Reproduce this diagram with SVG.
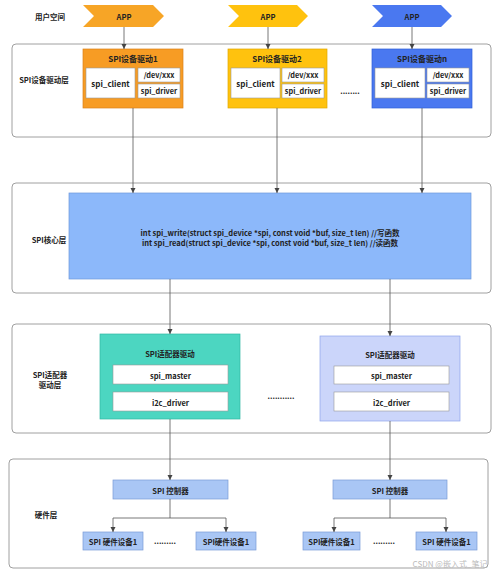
<svg xmlns="http://www.w3.org/2000/svg" width="499" height="573" viewBox="0 0 499 573">
<defs>
<marker id="ah" markerWidth="6" markerHeight="6" refX="5" refY="3" orient="auto" markerUnits="userSpaceOnUse">
<path d="M0,0.5 L5,3 L0,5.5 Z" fill="#444"/>
</marker>
<style>
text{font-family:"Noto Sans CJK SC","Noto Sans",sans-serif;font-weight:bold;fill:#222;text-anchor:middle;dominant-baseline:central}
.frame{fill:#fff;stroke:#888;stroke-width:0.8}
.w{fill:#fff;stroke:#999;stroke-width:0.6}
.conn{stroke:#555;stroke-width:0.8;fill:none}
.lbl{font-size:7.5px}
.t{font-size:8px}
.sm{font-size:7.3px}
.s{font-size:7.5px}
.hw{fill:#A9C6F5;stroke:#7A9AD6;stroke-width:0.7}
</style>
</defs>
<rect width="499" height="573" fill="#fff"/>

<g id="frames">
<rect class="frame" x="12" y="44" width="479" height="93" rx="4"/>
<rect class="frame" x="12" y="183" width="479" height="110" rx="4"/>
<rect class="frame" x="12" y="324" width="479" height="109" rx="4"/>
<rect class="frame" x="9" y="459" width="479" height="109" rx="4"/>
</g>

<g id="layer-labels">
<text class="lbl" x="50" y="16">用户空间</text>
<text class="lbl" x="44" y="79">SPI设备驱动层</text>
<text class="lbl" x="49" y="239">SPI核心层</text>
<text class="lbl" x="50" y="374">SPI适配器</text>
<text class="lbl" x="50" y="384">驱动层</text>
<text class="lbl" x="46" y="514">硬件层</text>
</g>

<g id="app1">
<polygon points="83,5 153,5 164,16 153,27 83,27 94,16" fill="#F7A526"/>
<text class="s" x="124" y="16">APP</text>
</g>
<g id="app2">
<polygon points="228,5 297,5 308,16 297,27 228,27 239,16" fill="#FFC20E"/>
<text class="s" x="268" y="16">APP</text>
</g>
<g id="app3">
<polygon points="372,5 441,5 452,16 441,27 372,27 383,16" fill="#4A78F0"/>
<text class="s" x="412" y="16">APP</text>
</g>

<g id="drv1">
<rect x="83" y="49" width="100" height="59" fill="#F79C24" stroke="#D9821A" stroke-width="0.7"/>
<text class="t" x="133" y="58">SPI设备驱动1</text>
<rect class="w" x="86" y="68" width="49" height="30"/>
<text class="t" x="110.5" y="83">spi_client</text>
<rect class="w" x="138" y="68" width="42" height="14"/>
<text class="sm" x="159" y="75">/dev/xxx</text>
<rect class="w" x="138" y="84" width="42" height="14"/>
<text class="sm" x="159" y="91">spi_driver</text>
</g>
<g id="drv2">
<rect x="228" y="49" width="99" height="59" fill="#FFC20E" stroke="#E0A800" stroke-width="0.7"/>
<text class="t" x="277" y="58">SPI设备驱动2</text>
<rect class="w" x="231" y="68" width="49" height="30"/>
<text class="t" x="255.5" y="83">spi_client</text>
<rect class="w" x="282" y="68" width="42" height="14"/>
<text class="sm" x="303" y="75">/dev/xxx</text>
<rect class="w" x="282" y="84" width="42" height="14"/>
<text class="sm" x="303" y="91">spi_driver</text>
</g>
<g id="drv-dots">
<text class="s" x="350" y="90">........</text>
</g>
<g id="drvn">
<rect x="372" y="49" width="100" height="59" fill="#4A78F0" stroke="#2F5FD8" stroke-width="0.7"/>
<text class="t" x="422" y="58">SPI设备驱动n</text>
<rect class="w" x="375" y="68" width="50" height="30"/>
<text class="t" x="400" y="83">spi_client</text>
<rect class="w" x="427" y="68" width="42" height="14"/>
<text class="sm" x="448" y="75">/dev/xxx</text>
<rect class="w" x="427" y="84" width="42" height="14"/>
<text class="sm" x="448" y="91">spi_driver</text>
</g>

<g id="core">
<rect x="69" y="193" width="402" height="86" fill="#8CB8FA" stroke="#6D97DA" stroke-width="0.7"/>
<text class="s" x="270" y="232">int spi_write(struct spi_device *spi, const void *buf, size_t len)  //写函数</text>
<text class="s" x="270" y="242">int spi_read(struct spi_device *spi, const void *buf, size_t len)  //读函数</text>
</g>

<g id="adapter1">
<rect x="100" y="334" width="140" height="85" fill="#4CD6C1" stroke="#33B8A4" stroke-width="0.7"/>
<text class="s" x="170" y="353">SPI适配器驱动</text>
<rect class="w" x="113" y="365" width="115" height="19"/>
<text class="s" x="170.5" y="375">spi_master</text>
<rect class="w" x="113" y="392" width="115" height="19"/>
<text class="s" x="170.5" y="402">i2c_driver</text>
</g>
<g id="adapter-dots">
<text class="s" x="281" y="395">...........</text>
</g>
<g id="adapter2">
<rect x="320" y="336" width="140" height="85" fill="#CBD5FA" stroke="#8EA4EA" stroke-width="0.7"/>
<text class="s" x="390" y="354">SPI适配器驱动</text>
<rect class="w" x="334" y="366" width="115" height="18"/>
<text class="s" x="391.5" y="375">spi_master</text>
<rect class="w" x="334" y="392" width="115" height="19"/>
<text class="s" x="391.5" y="402">i2c_driver</text>
</g>

<g id="ctrl1">
<rect class="hw" x="113" y="480" width="115" height="19"/>
<text class="s" x="170.5" y="490">SPI 控制器</text>
</g>
<g id="ctrl2">
<rect class="hw" x="333" y="480" width="114" height="19"/>
<text class="s" x="390" y="490">SPI 控制器</text>
</g>
<g id="dev1">
<rect class="hw" x="83" y="532" width="60" height="18"/>
<text class="s" x="113" y="541">SPI 硬件设备1</text>
</g>
<g id="dev2">
<rect class="hw" x="196" y="532" width="60" height="18"/>
<text class="s" x="226" y="541">SPI硬件设备1</text>
</g>
<g id="dev3">
<rect class="hw" x="303" y="532" width="57" height="18"/>
<text class="s" x="331.5" y="541">SPI硬件设备1</text>
</g>
<g id="dev4">
<rect class="hw" x="416" y="532" width="61" height="18"/>
<text class="s" x="446.5" y="541">SPI 硬件设备1</text>
</g>
<g id="hw-dots">
<text class="s" x="165" y="540">.........</text>
<text class="s" x="384" y="540">.........</text>
</g>

<g id="connectors">
<line class="conn" x1="124" y1="27" x2="124" y2="49" marker-end="url(#ah)"/>
<line class="conn" x1="268" y1="27" x2="268" y2="49" marker-end="url(#ah)"/>
<line class="conn" x1="412" y1="27" x2="412" y2="49" marker-end="url(#ah)"/>
<line class="conn" x1="133" y1="108" x2="133" y2="193" marker-end="url(#ah)"/>
<line class="conn" x1="277" y1="108" x2="277" y2="193" marker-end="url(#ah)"/>
<line class="conn" x1="422" y1="108" x2="422" y2="193" marker-end="url(#ah)"/>
<line class="conn" x1="170" y1="279" x2="170" y2="334" marker-end="url(#ah)"/>
<line class="conn" x1="390" y1="279" x2="390" y2="336" marker-end="url(#ah)"/>
<line class="conn" x1="170" y1="419" x2="170" y2="480" marker-end="url(#ah)"/>
<line class="conn" x1="390" y1="421" x2="390" y2="480" marker-end="url(#ah)"/>
<path class="conn" d="M170,499 V518"/>
<path class="conn" d="M113,518 H226"/>
<line class="conn" x1="113" y1="518" x2="113" y2="532" marker-end="url(#ah)"/>
<line class="conn" x1="226" y1="518" x2="226" y2="532" marker-end="url(#ah)"/>
<path class="conn" d="M390,499 V518"/>
<path class="conn" d="M334,518 H446"/>
<line class="conn" x1="334" y1="518" x2="334" y2="532" marker-end="url(#ah)"/>
<line class="conn" x1="446" y1="518" x2="446" y2="532" marker-end="url(#ah)"/>
</g>

<text x="450" y="563" style="font-size:8px;font-weight:normal;fill:#bbb">CSDN @嵌入式_笔记</text>
</svg>
